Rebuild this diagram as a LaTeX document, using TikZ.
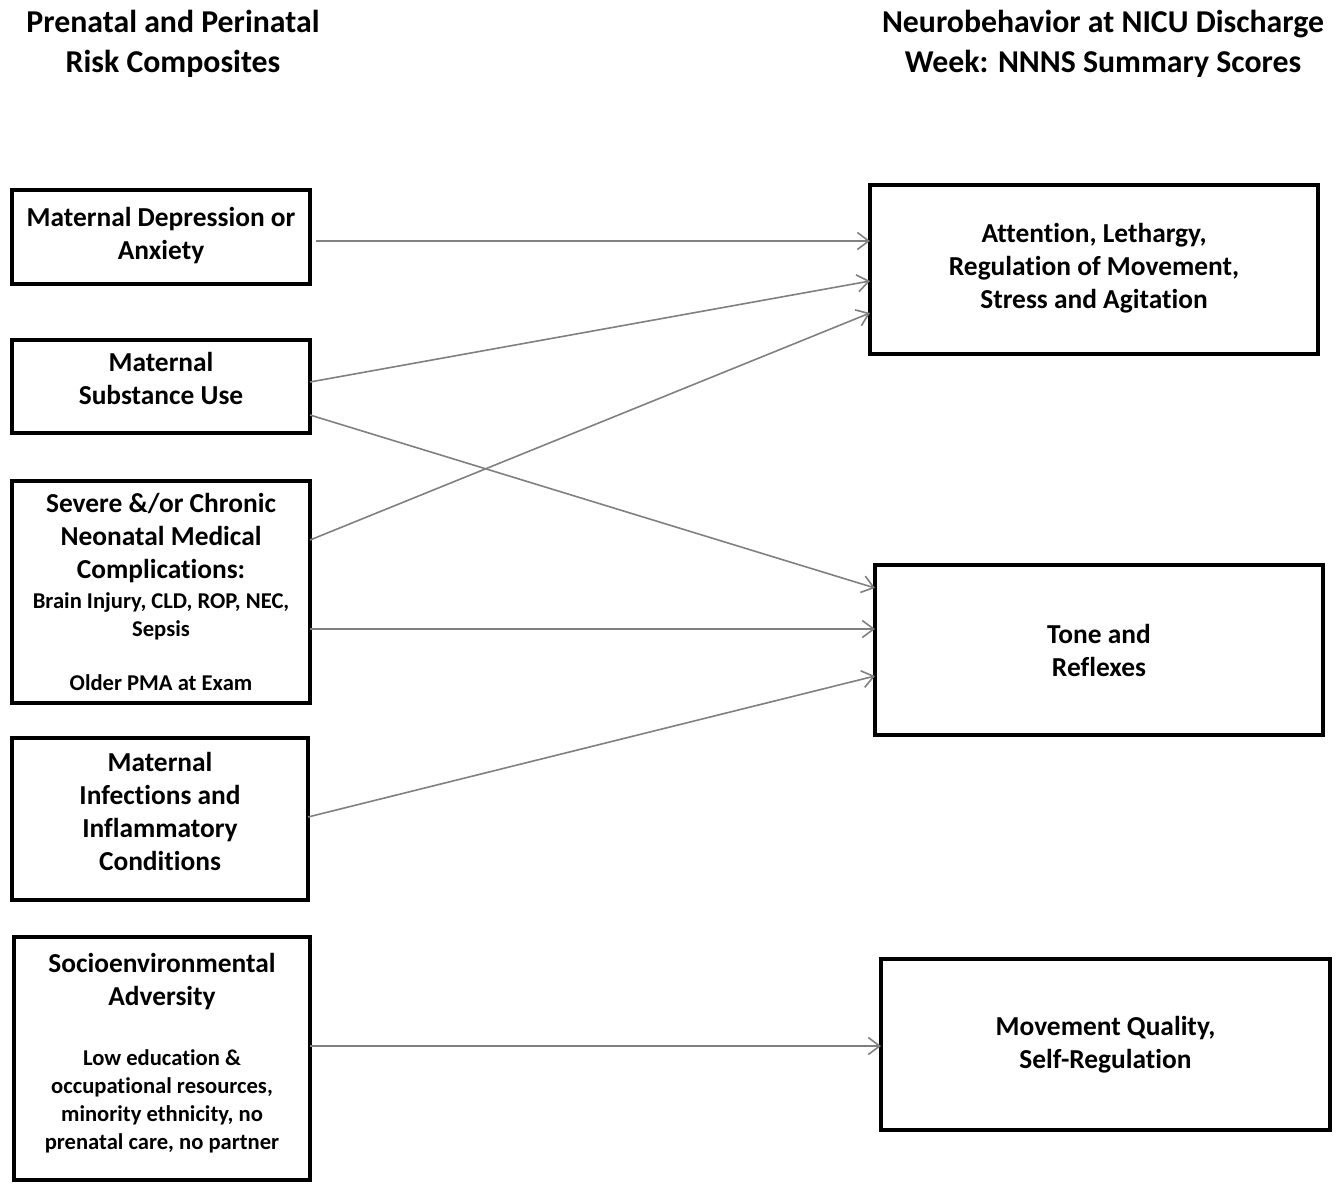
\documentclass[tikz,border=0pt]{standalone}
\usepackage{fontspec}
\setmainfont{Carlito}[Ligatures=NoCommon]
\usepackage{tikz}
\usetikzlibrary{arrows.meta,calc}

\newcommand{\detailfont}{\fontsize{11.3}{14}\selectfont}
\newcommand{\textlift}[1]{\rule[-#1]{0pt}{#1}}

\begin{document}
\begin{tikzpicture}[x=0.5pt,y=-0.5pt,>={Straight Barb[length=2mm,width=3mm]},
  riskbox/.style={draw,line width=2pt,outer sep=0pt,align=center,font=\bfseries\fontsize{13.7}{16.5}\selectfont},
  scorebox/.style={draw,line width=2pt,outer sep=0pt,align=center,font=\bfseries\fontsize{13.7}{16.5}\selectfont},
  heading/.style={align=center,font=\bfseries\fontsize{15.9}{20}\selectfont},
  link/.style={->,draw=black!50,line width=0.8pt}]
  \useasboundingbox (0,0) rectangle (1342,1184);
  % column headings
  \node[heading] (hrisk) at (173,44) {Prenatal and Perinatal\\Risk Composites};
  \node[heading] (hnnns) at (1103,44) {Neurobehavior at NICU Discharge\\Week: NNNS Summary Scores};
  % risk composites
  \node[riskbox,minimum width=149pt,minimum height=47pt] (dep) at (161,237) {Maternal Depression or\\Anxiety\textlift{4pt}};
  \node[riskbox,minimum width=149pt,minimum height=46.5pt] (sub) at (161,386.5) {Maternal\\Substance Use\textlift{8pt}};
  \node[riskbox,minimum width=149pt,minimum height=111pt] (med) at (161,592) {Severe \&/or Chronic\\Neonatal Medical\\Complications:\\[-1.5pt]
    \detailfont Brain Injury, CLD, ROP, NEC,\\[-2.5pt] \detailfont Sepsis\\[10.5pt] \detailfont Older PMA at Exam};
  \node[riskbox,minimum width=148pt,minimum height=81pt] (inf) at (160,819) {Maternal\\Infections and\\Inflammatory\\Conditions\textlift{8pt}};
  \node[riskbox,minimum width=148pt,minimum height=121.5pt] (soc) at (162,1058) {Socioenvironmental\\Adversity\\[13.5pt]
    \detailfont Low education \&\\[-2.5pt] \detailfont occupational resources,\\[-2.5pt] \detailfont minority ethnicity, no\\[-2.5pt] \detailfont prenatal care, no partner\textlift{7pt}};
  % NNNS summary scores
  \node[scorebox,minimum width=224pt,minimum height=84.5pt] (att) at (1094,269.5) {Attention, Lethargy,\\Regulation of Movement,\\Stress and Agitation\textlift{4pt}};
  \node[scorebox,minimum width=224pt,minimum height=85pt] (ton) at (1099,650) {Tone and\\Reflexes};
  \node[scorebox,minimum width=224.5pt,minimum height=85.5pt] (mov) at (1105.5,1044.5) {Movement Quality,\\Self-Regulation};
  % paths
  \draw[link] ($(dep.east)+(6,4)$) -- ($(att.west)+(0,-28.5)$);
  \draw[link] ($(sub.east)+(0,-4.5)$) -- ($(att.west)+(0,11.5)$);
  \draw[link] ($(med.east)+(0,-52)$) -- ($(att.west)+(0,43.5)$);
  \draw[link] ($(sub.east)+(0,28.5)$) -- ($(ton.west)+(0,-62)$);
  \draw[link] ($(med.east)+(0,37)$) -- ($(ton.west)+(0,-21)$);
  \draw[link] ($(inf.east)+(0,-2)$) -- ($(ton.west)+(0,26)$);
  \draw[link] ($(soc.east)+(0,-12)$) -- ($(mov.west)+(0,1.5)$);
\end{tikzpicture}
\end{document}
